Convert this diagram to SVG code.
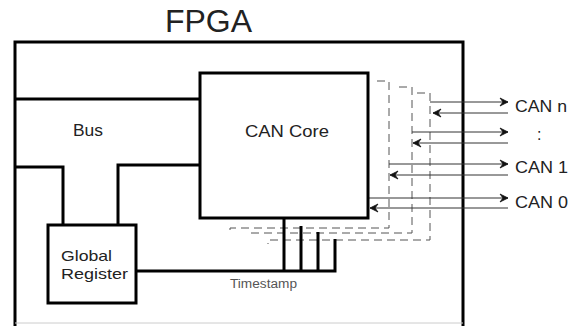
<svg xmlns="http://www.w3.org/2000/svg" width="576" height="326" viewBox="0 0 576 326">
<defs>
<style>
.thick{fill:none;stroke:#000;stroke-width:3;stroke-linejoin:miter}
.box{fill:#fff;stroke:#000;stroke-width:3}
.dash{fill:none;stroke:#555;stroke-width:1;stroke-dasharray:8,5}
.arr{fill:none;stroke:#333;stroke-width:1;marker-end:url(#ah)}
.t{font-family:"Liberation Sans",Arial,sans-serif;fill:#222}
</style>
<marker id="ah" markerWidth="10" markerHeight="10" refX="9" refY="5" orient="auto" markerUnits="userSpaceOnUse">
<path d="M1,1 L9,5 L1,9 L4,5 Z" fill="#111" stroke="#111" stroke-width="0.8" stroke-linejoin="miter"/>
</marker>
</defs>
<rect width="576" height="326" fill="#fff"/>
<text class="t" x="165" y="32" font-size="32" textLength="87" lengthAdjust="spacingAndGlyphs">FPGA</text>
<g id="fpga">
<path class="thick" d="M15,330 V42 H463 V330"/>
<line x1="15" y1="323" x2="463" y2="323" stroke="#ccc" stroke-width="1"/>
</g>
<g id="bus">
<path class="thick" d="M15,99 H200"/>
<path class="thick" d="M15,167 H63 V225"/>
<path class="thick" d="M200,165 H118 V225"/>
<text class="t" x="73" y="136" font-size="16" textLength="30" lengthAdjust="spacingAndGlyphs">Bus</text>
</g>
<g id="connectors">
<path class="dash" d="M377,81 H389 V228 H230 V232"/>
<path class="dash" d="M399,87 H412 V233 H250 V237"/>
<path class="dash" d="M417,93 H430 V240 H268 V244"/>
<line class="arr" x1="430" y1="102" x2="508" y2="102"/>
<line class="arr" x1="508" y1="113" x2="433" y2="113"/>
<line class="arr" x1="412" y1="132" x2="508" y2="132"/>
<line class="arr" x1="508" y1="143" x2="413" y2="143"/>
<line class="arr" x1="389" y1="164" x2="508" y2="164"/>
<line class="arr" x1="508" y1="175" x2="390" y2="175"/>
<line class="arr" x1="368" y1="198" x2="508" y2="198"/>
<line class="arr" x1="508" y1="208" x2="370" y2="208"/>
<path class="thick" d="M136,271 H335 V239 M284,217 V271 M301,226 V271 M318,232 V271"/>
<text class="t" x="230" y="288" font-size="12" textLength="67" lengthAdjust="spacingAndGlyphs" style="fill:#555">Timestamp</text>
</g>
<g id="can-core">
<rect class="box" x="200" y="73" width="168" height="145"/>
<text class="t" x="245" y="137" font-size="17" textLength="84" lengthAdjust="spacingAndGlyphs">CAN Core</text>
</g>
<g id="global-register">
<rect class="box" x="48" y="225" width="88" height="78"/>
<text class="t" x="61" y="261" font-size="15" textLength="51" lengthAdjust="spacingAndGlyphs">Global</text>
<text class="t" x="61" y="279" font-size="15" textLength="67" lengthAdjust="spacingAndGlyphs">Register</text>
</g>
<g id="labels">
<text class="t" x="515" y="112" font-size="16" textLength="52" lengthAdjust="spacingAndGlyphs">CAN n</text>
<text class="t" x="537" y="140" font-size="16">:</text>
<text class="t" x="515" y="173" font-size="16" textLength="53" lengthAdjust="spacingAndGlyphs">CAN 1</text>
<text class="t" x="515" y="208" font-size="16" textLength="53" lengthAdjust="spacingAndGlyphs">CAN 0</text>
</g>
</svg>
